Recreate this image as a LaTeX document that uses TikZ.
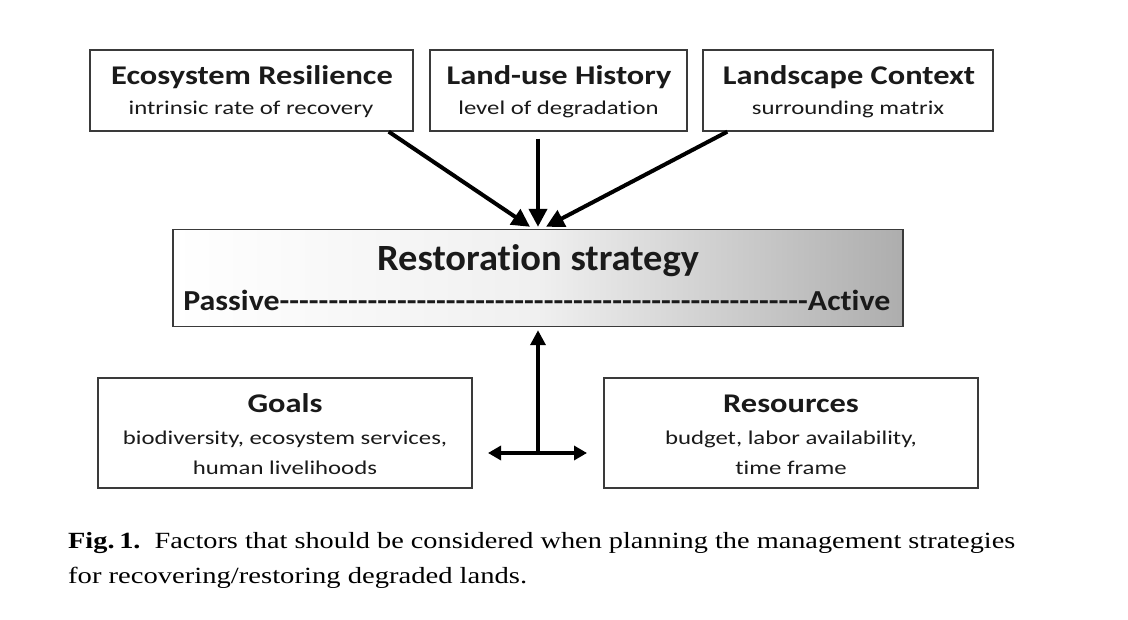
\documentclass[tikz,border=0pt]{standalone}
\usepackage{graphicx}
\usepackage{fontspec}
\setmainfont{Carlito}[Ligatures=NoCommon]
\newfontfamily\capfont{Liberation Serif}
\usetikzlibrary{arrows.meta}
\definecolor{txt}{HTML}{1A1A1A}
\definecolor{edge}{HTML}{3A3A3A}
\newcommand\ttlx[1]{\scalebox{1.2}[1]{#1}}
\newcommand\subx[1]{\scalebox{1.27}[1]{#1}}
\tikzset{
  factor/.style={draw=edge, line width=1.4pt, fill=white, inner sep=0pt},
  ttl/.style={anchor=base, font=\bfseries\fontsize{27}{30}\selectfont, text=txt, inner sep=0pt},
  sub/.style={anchor=base, font=\fontsize{19.5}{22}\selectfont, text=txt, inner sep=0pt},
  bigarrow/.style={line width=4pt, -{Triangle[length=18pt,width=18pt]}},
  smallarrow/.style={line width=3.5pt, {Triangle[length=13pt,width=14pt]}-{Triangle[length=13pt,width=14pt]}},
  caption/.style={anchor=base west, font=\capfont\fontsize{23.2}{26}\selectfont, text=black, inner sep=0pt}
}
\begin{document}
\begin{tikzpicture}[x=1pt,y=-1pt]
\useasboundingbox (0,0) rectangle (1128,620);
% top factor boxes
\node[factor, minimum width=323pt, minimum height=81pt] (eco) at (251.5,90.5) {};
\node[factor, minimum width=257pt, minimum height=81pt] (land) at (558.5,90.5) {};
\node[factor, minimum width=290pt, minimum height=81pt] (ctx) at (848,90.5) {};
\node[ttl] (ecoT) at (252,85) {\ttlx{Ecosystem Resilience}};
\node[sub] (ecoS) at (251,115) {\subx{intrinsic rate of recovery}};
\node[ttl] (landT) at (559,85) {\ttlx{Land-use History}};
\node[sub] (landS) at (558.5,115) {\subx{level of degradation}};
\node[ttl] (ctxT) at (849,85) {\ttlx{Landscape Context}};
\node[sub] (ctxS) at (848,115) {\subx{surrounding matrix}};
% restoration strategy
\node[draw=edge, line width=1.4pt, minimum width=730pt, minimum height=97pt, inner sep=0pt,
      left color=white, right color=black!32, middle color=black!6] (res) at (538,278) {};
\node[anchor=base, font=\bfseries\fontsize{37}{40}\selectfont, text=txt, inner sep=0pt] (resT) at (538,271)
  {\scalebox{1.04}[1]{Restoration strategy}};
\node[anchor=base, font=\bfseries\fontsize{29}{32}\selectfont, text=txt, inner sep=0pt] (resS) at (537,311)
  {\scalebox{1.1}[1]{\makebox[643pt]{Passive\xleaders\hbox{-}\hfill Active}}};
% bottom boxes
\node[factor, minimum width=374pt, minimum height=110pt] (goals) at (285,433) {};
\node[factor, minimum width=374pt, minimum height=110pt] (rsrc) at (791,433) {};
\node[ttl] (goalsT) at (285,413) {\ttlx{Goals}};
\node[sub] (goalsS1) at (285,445) {\subx{biodiversity, ecosystem services,}};
\node[sub] (goalsS2) at (285,475) {\subx{human livelihoods}};
\node[ttl] (rsrcT) at (791,413) {\ttlx{Resources}};
\node[sub] (rsrcS1) at (791,445) {\subx{budget, labor availability,}};
\node[sub] (rsrcS2) at (791,475) {\subx{time frame}};
% arrows from top
\draw[bigarrow] ([xshift=-25pt]eco.south east) -- ([xshift=-8pt,yshift=2pt]res.north);
\draw[bigarrow] ([yshift=-7pt]res.north |- land.south) -- ([yshift=2pt]res.north);
\draw[bigarrow] ([xshift=25pt]ctx.south west) -- ([xshift=8pt,yshift=2pt]res.north);
% bottom connector
\coordinate (hub) at (538,453);
\coordinate (hubL) at (488,453);
\coordinate (hubR) at (587,453);
\draw[line width=3.5pt, -{Triangle[length=15pt,width=15pt]}] (hub) -- ([yshift=-3pt]res.south);
\draw[smallarrow] (hubL) -- (hubR);
% caption
\node[caption] (cap1) at (68,548) {\resizebox{947pt}{\height}{\textbf{Fig.\,1.}\ \ Factors that should be considered when planning the management strategies}};
\node[caption] (cap2) at (68,583) {\resizebox{459pt}{\height}{for recovering/restoring degraded lands.}};
\end{tikzpicture}
\end{document}
